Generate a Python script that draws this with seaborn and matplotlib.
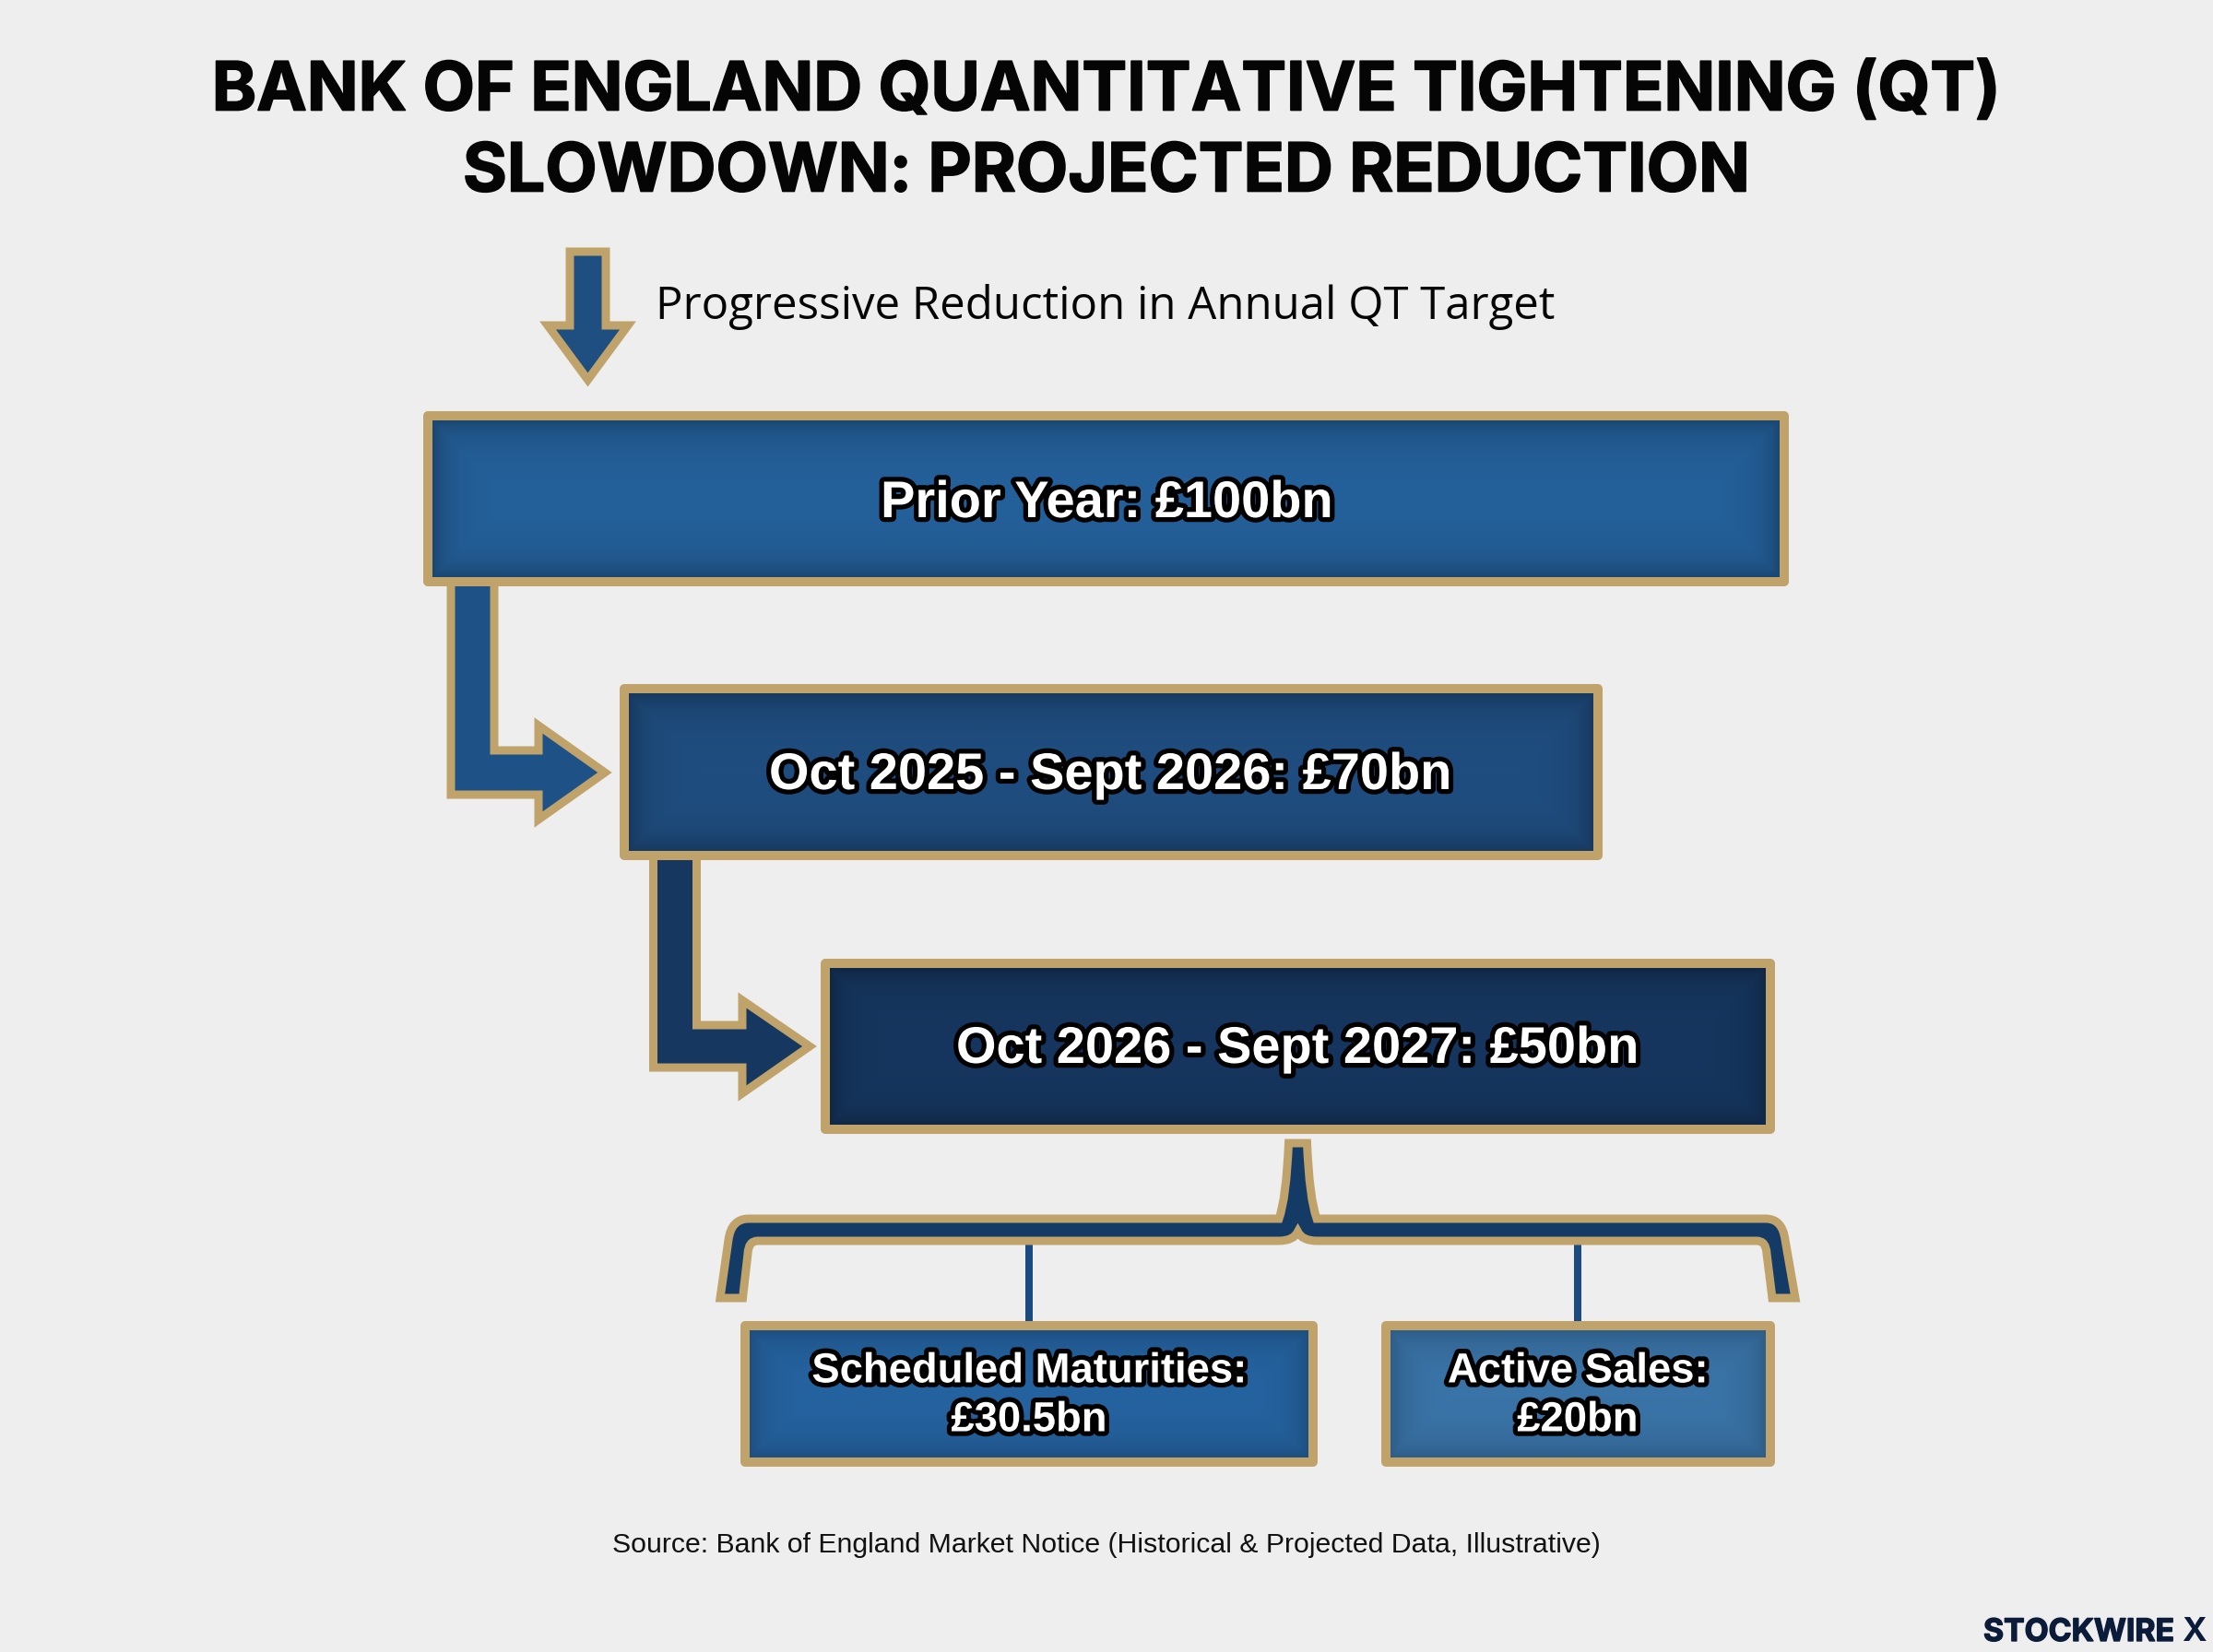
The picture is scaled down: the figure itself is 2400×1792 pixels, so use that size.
import numpy as np
import matplotlib
matplotlib.use('Agg')
import matplotlib.pyplot as plt
import matplotlib.patheffects as pe
from matplotlib.path import Path
from matplotlib.patches import PathPatch
import seaborn as sns

# data
title_lines = ['BANK OF ENGLAND QUANTITATIVE TIGHTENING (QT)', 'SLOWDOWN: PROJECTED REDUCTION']
subtitle = 'Progressive Reduction in Annual QT Target'
stage_names = ['Prior Year', 'Oct 2025 - Sept 2026', 'Oct 2026 - Sept 2027']
stage_values = [100, 70, 50]
split_names = ['Scheduled Maturities', 'Active Sales']
split_values = [30.5, 20]
source = 'Source: Bank of England Market Notice (Historical & Projected Data, Illustrative)'

# layout in pixels: left, top, right, bottom (outer edge of the gold border)
stage_boxes = [(459, 446, 1940, 636), (672, 742, 1738, 933), (890, 1040, 1925, 1230)]
stage_fill = ['#24609a', '#1f4d7f', '#16365f']
stage_text_x = [1200, 1204, 1407]
stage_text_y = [547, 842, 1139]
split_boxes = [(803, 1433, 1429, 1591), (1498, 1433, 1925, 1591)]
split_fill = ['#2563a0', '#3a74a8']
split_text_x = [1116, 1711]

GOLD = '#bfa36b'
BG = '#eeeeee'
BORDER = 10

sns.set_theme(style='white')
plt.rcParams['font.family'] = ['Liberation Sans', 'DejaVu Sans']

fig = plt.figure(figsize=(24, 17.92), dpi=100, facecolor=BG)
ax = fig.add_axes([0, 0, 1, 1])
ax.set_facecolor(BG)
lw = 0.72  # px to points


def draw_box(box, fill, shade):
    x0, y0, x1, y1 = box
    inset = BORDER / 2
    sns.barplot(x=[x1 - x0 - BORDER], y=[(y0 + y1) / 2], orient='y', native_scale=True,
                width=y1 - y0 - BORDER, left=x0 + inset, color=fill, saturation=1,
                edgecolor=GOLD, linewidth=BORDER * lw, errorbar=None, ax=ax, zorder=4)
    ax.patches[-1].set_joinstyle('round')
    # darker rim inside the border
    w = int(x1 - x0 - 2 * BORDER)
    h = int(y1 - y0 - 2 * BORDER)
    xx = np.minimum(np.arange(w), np.arange(w)[::-1])
    yy = np.minimum(np.arange(h), np.arange(h)[::-1])
    dist = np.minimum.outer(yy, xx)
    rgba = np.zeros((h, w, 4))
    rgba[..., 3] = shade * np.exp(-dist / 20)
    ax.imshow(rgba, extent=(x0 + BORDER, x1 - BORDER, y1 - BORDER, y0 + BORDER),
              aspect='auto', zorder=5, interpolation='bilinear')


def draw_shape(points, fill, z=2):
    ax.fill([p[0] for p in points], [p[1] for p in points], facecolor=fill, edgecolor=GOLD,
            linewidth=9 * lw, joinstyle='miter', zorder=z)


def box_label(x, y, text, size):
    ax.text(x, y, text, ha='center', va='center', color='white', fontsize=size, fontweight='bold',
            zorder=6, path_effects=[pe.withStroke(linewidth=7.5, foreground='black')])


# arrows
draw_shape([(618, 273), (657, 273), (657, 353), (681, 353), (637.5, 412), (594, 353), (618, 353)], '#1e4f80')
draw_shape([(489, 630), (536, 630), (536, 814), (584, 814), (584, 787), (656, 838), (584, 889), (584, 862), (489, 862)], '#1e5185')
draw_shape([(708.5, 925), (755.5, 925), (755.5, 1112), (805, 1112), (805, 1085), (878, 1135), (805, 1186), (805, 1158), (708.5, 1158)], '#16375f')

# stage boxes
for box, fill in zip(stage_boxes, stage_fill):
    draw_box(box, fill, 0.26)
for name, val, x, y in zip(stage_names, stage_values, stage_text_x, stage_text_y):
    box_label(x, y, f'{name}: £{val}bn', 40.3)

# bracket under the last box
verts = [(1397.5, 1240), (1417.5, 1240), (1420, 1300), (1428, 1322), (1915, 1322), (1933, 1322), (1936, 1345),
         (1947, 1408), (1922, 1408), (1916, 1360), (1915.5, 1346), (1905, 1346), (1428, 1346), (1412, 1346),
         (1407.5, 1336), (1403, 1346), (1387, 1346), (822, 1346), (811.5, 1346), (811, 1360), (805.5, 1408),
         (781, 1408), (790, 1345), (793, 1322), (812, 1322), (1387, 1322), (1395, 1300), (1397.5, 1240), (1397.5, 1240)]
codes = [Path.MOVETO, Path.LINETO, Path.CURVE3, Path.CURVE3, Path.LINETO, Path.CURVE3, Path.CURVE3,
         Path.LINETO, Path.LINETO, Path.LINETO, Path.CURVE3, Path.CURVE3, Path.LINETO, Path.CURVE3,
         Path.CURVE3, Path.CURVE3, Path.CURVE3, Path.LINETO, Path.CURVE3, Path.CURVE3, Path.LINETO,
         Path.LINETO, Path.LINETO, Path.CURVE3, Path.CURVE3, Path.LINETO, Path.CURVE3, Path.CURVE3, Path.CLOSEPOLY]
ax.add_patch(PathPatch(Path(verts, codes), facecolor='#143a66', edgecolor=GOLD, linewidth=9 * lw, zorder=3))

# connectors and split boxes
for x in split_text_x:
    ax.plot([x, x], [1350, 1436], color='#1a4a80', linewidth=8 * lw, solid_capstyle='butt', zorder=2)
for box, fill in zip(split_boxes, split_fill):
    draw_box(box, fill, 0.2)
for name, val, x in zip(split_names, split_values, split_text_x):
    box_label(x, 1488, f'{name}:', 32.7)
    box_label(x, 1541, f'£{val:g}bn', 32.7)

# titles and notes
for line, y in zip(title_lines, [100, 188]):
    ax.text(1200, y, line, ha='center', va='center', color='#050505', fontsize=52.7, fontweight='bold', family='Inter',
            path_effects=[pe.withStroke(linewidth=1.2, foreground='#050505')])
ax.text(711, 333, subtitle, ha='left', va='center', color='#050505', fontsize=35.4, family='Open Sans')
ax.text(1200, 1676, source, ha='center', va='center', color='#111111', fontsize=21.75)
ax.text(2151, 1771, 'STOCKWIRE', ha='left', va='center', color='#0b1b3a', fontsize=24.3, fontweight='bold', family='Inter',
        path_effects=[pe.withStroke(linewidth=1, foreground='#0b1b3a')])
ax.text(2366, 1771, 'X', ha='left', va='center', color='#0b1b3a', fontsize=26, fontweight='bold', family='Inter')

ax.set_xlim(0, 2400)
ax.set_ylim(1792, 0)
ax.axis('off')
fig.savefig('out.png', dpi=100, facecolor=BG)
